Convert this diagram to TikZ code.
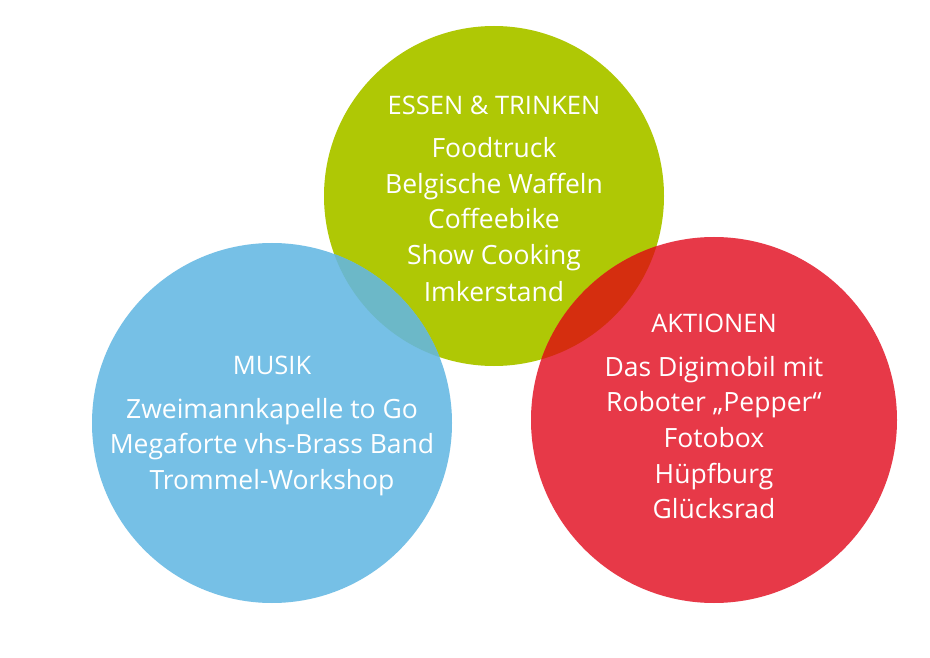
\documentclass[tikz,border=0pt]{standalone}
\usepackage{fontspec}
\setmainfont{Open Sans}
\definecolor{cgreen}{RGB}{175,200,5}
\definecolor{cblue}{RGB}{118,192,230}
\definecolor{cred}{RGB}{231,57,72}
\definecolor{cbg}{RGB}{108,184,200}
\definecolor{crg}{RGB}{213,46,15}
\tikzset{
  head/.style={text=white, anchor=base, inner sep=0pt, font=\fontsize{25.5}{30}\selectfont},
  item/.style={text=white, anchor=base, inner sep=0pt, font=\fontsize{26.5}{30}\selectfont},
}
\begin{document}
\begin{tikzpicture}[x=1pt,y=-1pt]
\useasboundingbox[fill=white] (0,0) rectangle (930,658);
% circles
\fill[cgreen] (494,196) circle (170);
\fill[cblue] (272,423) circle (180);
\fill[cred] (714,420) circle (183);
\begin{scope}
  \clip (494,196) circle (170);
  \fill[cbg] (272,423) circle (180);
  \fill[crg] (714,420) circle (183);
\end{scope}
% green texts
\node[head] (g0) at (494,115) {ESSEN \& TRINKEN};
\node[item] (g1) at (494,158) {Foodtruck};
\node[item] (g2) at (494,193.5) {Belgische Waffeln};
\node[item] (g3) at (494,229) {Coffeebike};
\node[item] (g4) at (494,265) {Show Cooking};
\node[item] (g5) at (494,301) {Imkerstand};
% blue texts
\node[head] (b0) at (272,374) {MUSIK};
\node[item] (b1) at (272,418) {Zweimannkapelle to Go};
\node[item] (b2) at (272,453.5) {Megaforte vhs-Brass Band};
\node[item] (b3) at (272,489) {Trommel-Workshop};
% red texts
\node[head] (r0) at (714,332) {AKTIONEN};
\node[item] (r1) at (714,376) {Das Digimobil mit};
\node[item] (r2) at (714,411.5) {Roboter „Pepper“};
\node[item] (r3) at (714,447) {Fotobox};
\node[item] (r4) at (714,483) {Hüpfburg};
\node[item] (r5) at (714,518) {Glücksrad};
\end{tikzpicture}
\end{document}
